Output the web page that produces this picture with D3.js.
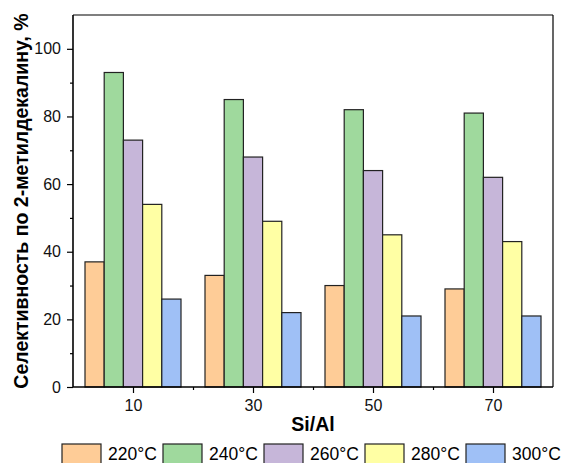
<!DOCTYPE html>
<html>
<head>
<meta charset="utf-8">
<script src="https://cdn.jsdelivr.net/npm/d3@7"></script>
<style>
  body { margin: 0; background: #fff; }
  svg { font-family: "Liberation Sans", Arial, sans-serif; }
</style>
</head>
<body>
<div id="chart"></div>
<script>
// data
var ratios = [10, 30, 50, 70];
var temps = ["220°C", "240°C", "260°C", "280°C", "300°C"];
var colors = ["#FECC97", "#9FD99D", "#C6B6D9", "#FFFFA4", "#9FC0F6"];
var s220 = [37, 33, 30, 29];
var s240 = [93, 85, 82, 81];
var s260 = [73, 68, 64, 62];
var s280 = [54, 49, 45, 43];
var s300 = [26, 22, 21, 21];
var series = [s220, s240, s260, s280, s300];
var yTicks = [0, 20, 40, 60, 80, 100];

var W = 564, H = 463;
var pL = 73, pR = 553, pT = 15, pB = 387;

var svg = d3.select("#chart").append("svg")
  .attr("width", W).attr("height", H);

var x = d3.scaleLinear().domain([0, 80]).range([pL, pR]);
var y = d3.scaleLinear().domain([0, 110]).range([pB, pT]);
var barW = 3.2; // in x units

// bars
series.forEach(function(vals, si) {
  svg.append("g").selectAll("rect")
    .data(vals)
    .enter().append("rect")
    .attr("x", function(d, i) { return x(ratios[i] - 8 + si * barW); })
    .attr("y", function(d) { return y(d); })
    .attr("width", x(barW) - x(0))
    .attr("height", function(d) { return y(0) - y(d); })
    .style("fill", colors[si])
    .style("stroke", "#222")
    .style("stroke-width", 1.2);
});

// frame top/right
svg.append("line").attr("x1", pL).attr("x2", pR).attr("y1", pT).attr("y2", pT)
  .style("stroke", "#000").style("stroke-width", 1.2);
svg.append("line").attr("x1", pR).attr("x2", pR).attr("y1", pT).attr("y2", pB)
  .style("stroke", "#000").style("stroke-width", 1.2);

// y axis
var yAxis = d3.axisLeft(y).tickValues(yTicks).tickSize(6).tickPadding(6);
svg.append("g").attr("transform", "translate(" + pL + ",0)").call(yAxis);
var yMinor = d3.axisLeft(y).tickValues([10, 30, 50, 70, 90]).tickSize(3).tickFormat("");
svg.append("g").attr("transform", "translate(" + pL + ",0)").call(yMinor);

// x axis
var xAxis = d3.axisBottom(x).tickValues(ratios).tickSize(6).tickPadding(7);
svg.append("g").attr("transform", "translate(0," + pB + ")").call(xAxis);
var xMinor = d3.axisBottom(x).tickValues([20, 40, 60]).tickSize(3).tickFormat("");
svg.append("g").attr("transform", "translate(0," + pB + ")").call(xMinor);

svg.selectAll(".domain").remove();
svg.append("line").attr("x1", pL).attr("x2", pL).attr("y1", pT).attr("y2", pB)
  .style("stroke", "#000").style("stroke-width", 1.6);
svg.append("line").attr("x1", pL).attr("x2", pR).attr("y1", pB).attr("y2", pB)
  .style("stroke", "#000").style("stroke-width", 1.6);
svg.selectAll(".tick line").style("stroke", "#000").style("stroke-width", 1.2);
svg.selectAll(".tick text").style("font-size", "16px").style("fill", "#111")
  .style("font-family", "'Liberation Sans', Arial, sans-serif");

// axis titles
svg.append("text")
  .attr("x", (pL + pR) / 2).attr("y", 431)
  .attr("text-anchor", "middle")
  .style("font-size", "19.5px").style("font-weight", "bold")
  .text("Si/Al");
svg.append("text")
  .attr("transform", "translate(28," + ((pT + pB) / 2) + ") rotate(-90)")
  .attr("text-anchor", "middle")
  .style("font-size", "19.5px").style("font-weight", "bold")
  .text("Селективность по 2-метилдекалину, %");

// legend
var lg = svg.append("g").selectAll("g")
  .data(temps).enter().append("g")
  .attr("transform", function(d, i) { return "translate(" + (62 + i * 101) + ",444)"; });
lg.append("rect").attr("width", 39).attr("height", 20)
  .style("fill", function(d, i) { return colors[i]; })
  .style("stroke", "#222").style("stroke-width", 1.2);
lg.append("text").attr("x", 46).attr("y", 16)
  .style("font-size", "17.5px")
  .text(function(d) { return d; });
</script>
</body>
</html>
